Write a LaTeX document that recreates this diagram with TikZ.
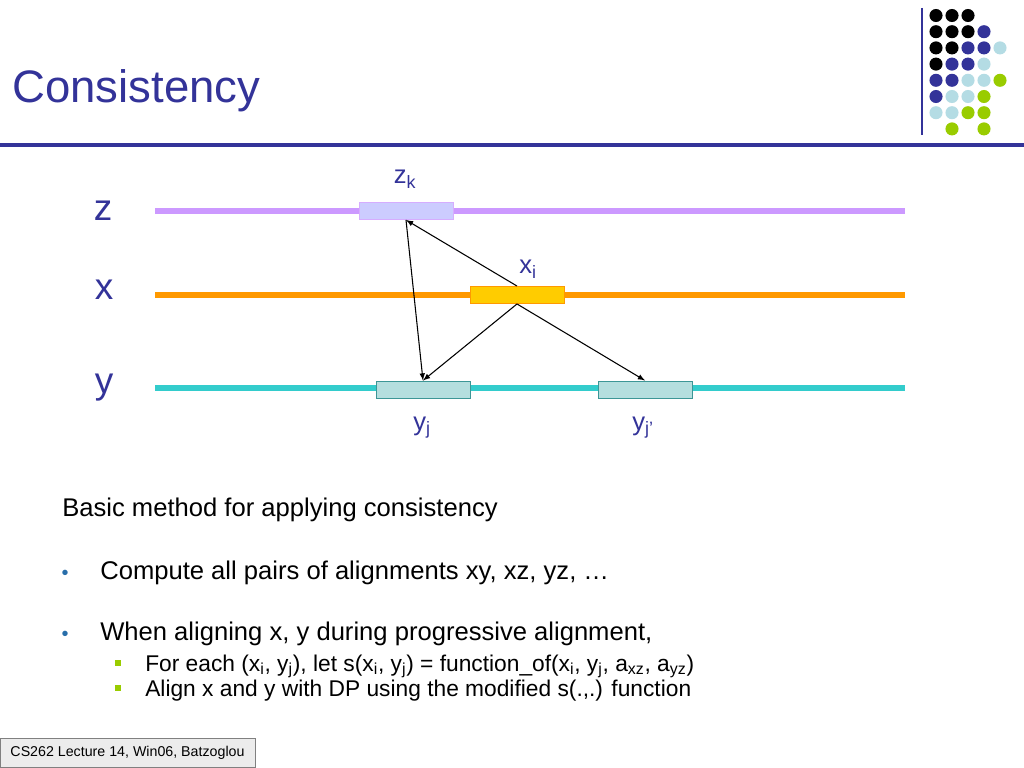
\documentclass[tikz,border=0pt]{standalone}
\usepackage{fontspec}
\setmainfont{Liberation Sans}
\usetikzlibrary{arrows}

\definecolor{titleblue}{RGB}{51,51,153}
\definecolor{zcol}{RGB}{204,153,255}
\definecolor{zfill}{RGB}{204,204,255}
\definecolor{xcol}{RGB}{255,153,0}
\definecolor{xfill}{RGB}{255,204,0}
\definecolor{ycol}{RGB}{51,204,204}
\definecolor{yfill}{RGB}{180,222,222}
\definecolor{yedge}{RGB}{60,150,150}
\definecolor{dotblk}{RGB}{0,0,0}
\definecolor{dotblue}{RGB}{51,51,153}
\definecolor{dotsky}{RGB}{180,220,228}
\definecolor{dotlime}{RGB}{153,204,0}
\definecolor{bulblue}{RGB}{40,110,170}
\definecolor{footgray}{RGB}{236,236,236}

\tikzset{
  track/.style={line width=3.8pt},
  seg/.style={minimum width=66pt, minimum height=12pt, inner sep=0pt, line width=0.6pt},
  lab/.style={text=titleblue, inner sep=0pt, anchor=base, font=\fontsize{18}{20}\selectfont},
  axis/.style={text=titleblue, inner sep=0pt, anchor=base, font=\fontsize{26}{28}\selectfont},
  txt/.style={anchor=base west, inner sep=0pt, font=\fontsize{18}{22}\selectfont},
  subtxt/.style={anchor=base west, inner sep=0pt, font=\fontsize{16}{20}\selectfont},
  bul/.style={text=bulblue, inner sep=0pt, anchor=base, font=\fontsize{14}{14}\selectfont},
  sqbul/.style={fill=dotlime, minimum size=4.5pt, inner sep=0pt},
  link/.style={-latex, line width=0.75pt}
}

\begin{document}
\begin{tikzpicture}[x=0.703125pt, y=-0.703125pt]
      \useasboundingbox[fill=white] (0,0) rectangle (1024,768);

      \node[anchor=base west, inner sep=0pt, text=titleblue, font=\fontsize{32}{36}\selectfont] (title) at (12,103) {Consistency};
      \draw[titleblue, line width=2.2pt] (0,145) -- (1024,145);
      \draw[titleblue, line width=2pt] (922,8) -- (922,135);
      \foreach \c/\r/\col in {0/0/dotblk,1/0/dotblk,2/0/dotblk,
          0/1/dotblk,1/1/dotblk,2/1/dotblk,3/1/dotblue,
          0/2/dotblk,1/2/dotblk,2/2/dotblue,3/2/dotblue,4/2/dotsky,
          0/3/dotblk,1/3/dotblue,2/3/dotblue,3/3/dotsky,
          0/4/dotblue,1/4/dotblue,2/4/dotsky,3/4/dotsky,4/4/dotlime,
          0/5/dotblue,1/5/dotsky,2/5/dotsky,3/5/dotlime,
          0/6/dotsky,1/6/dotsky,2/6/dotlime,3/6/dotlime,
          1/7/dotlime,3/7/dotlime}
        \fill[\col] (936+16*\c, 15.5+16.2*\r) circle (4.6pt);

      \coordinate (zL) at (155,211);
      \coordinate (zR) at (905,211);
      \coordinate (xL) at (155,295);
      \coordinate (xR) at (905,295);
      \coordinate (yL) at (155,388);
      \coordinate (yR) at (905,388);
      \draw[track, zcol] (zL) -- (zR);
      \draw[track, xcol] (xL) -- (xR);
      \draw[track, ycol] (yL) -- (yR);

      \node[axis] (zname) at (103,221) {z};
      \node[axis] (xname) at (104,300) {x};
      \node[axis] (yname) at (104,393) {y};

      \node[seg, draw=zcol!80!white, fill=zfill] (zk) at (406,211) {};
      \node[seg, draw=xcol, fill=xfill] (xi) at (517,295) {};
      \node[seg, draw=yedge, fill=yfill] (yj) at (423,389.5) {};
      \node[seg, draw=yedge, fill=yfill] (yjp) at (645,389.5) {};

      \node[lab] (zklab) at (405,184) {z\textsubscript{k}};
      \node[lab] (xilab) at (528,274) {x\textsubscript{i}};
      \node[lab] (yjlab) at (422,430) {y\textsubscript{j}};
      \node[lab] (yjplab) at (643,430) {y\textsubscript{j’}};

      \draw[link] (xi.north) -- (zk.south);
      \draw[link] (zk.south) -- (yj.north);
      \draw[link] (xi.south) -- (yj.north);
      \draw[link] (xi.south) -- (yjp.north);

      \node[txt] (basic) at (62,516) {Basic method for applying consistency};
      \node[bul] (b1) at (65,579) {•};
      \node[txt] (compute) at (100,579) {Compute all pairs of alignments xy, xz, yz, …};
      \node[bul] (b2) at (65,640) {•};
      \node[txt] (when) at (100,640) {When aligning x, y during progressive alignment,};
      \node[sqbul] (s1) at (118,663) {};
      \node[subtxt] (foreach) at (145,671) {For each (x\textsubscript{i}, y\textsubscript{j}), let s(x\textsubscript{i}, y\textsubscript{j}) = function\_of(x\textsubscript{i}, y\textsubscript{j}, a\textsubscript{xz}, a\textsubscript{yz})};
      \node[sqbul] (s2) at (118,688) {};
      \node[subtxt] (align) at (145,696) {Align x and y with DP using the modified s(.,.) function};

      \node[draw=gray, fill=footgray, minimum width=179pt, minimum height=20.4pt, inner sep=0pt, font=\fontsize{10}{12}\selectfont] (foot) at (127.5,752.5) {CS262 Lecture 14, Win06, Batzoglou};
    \end{tikzpicture}
\end{document}
